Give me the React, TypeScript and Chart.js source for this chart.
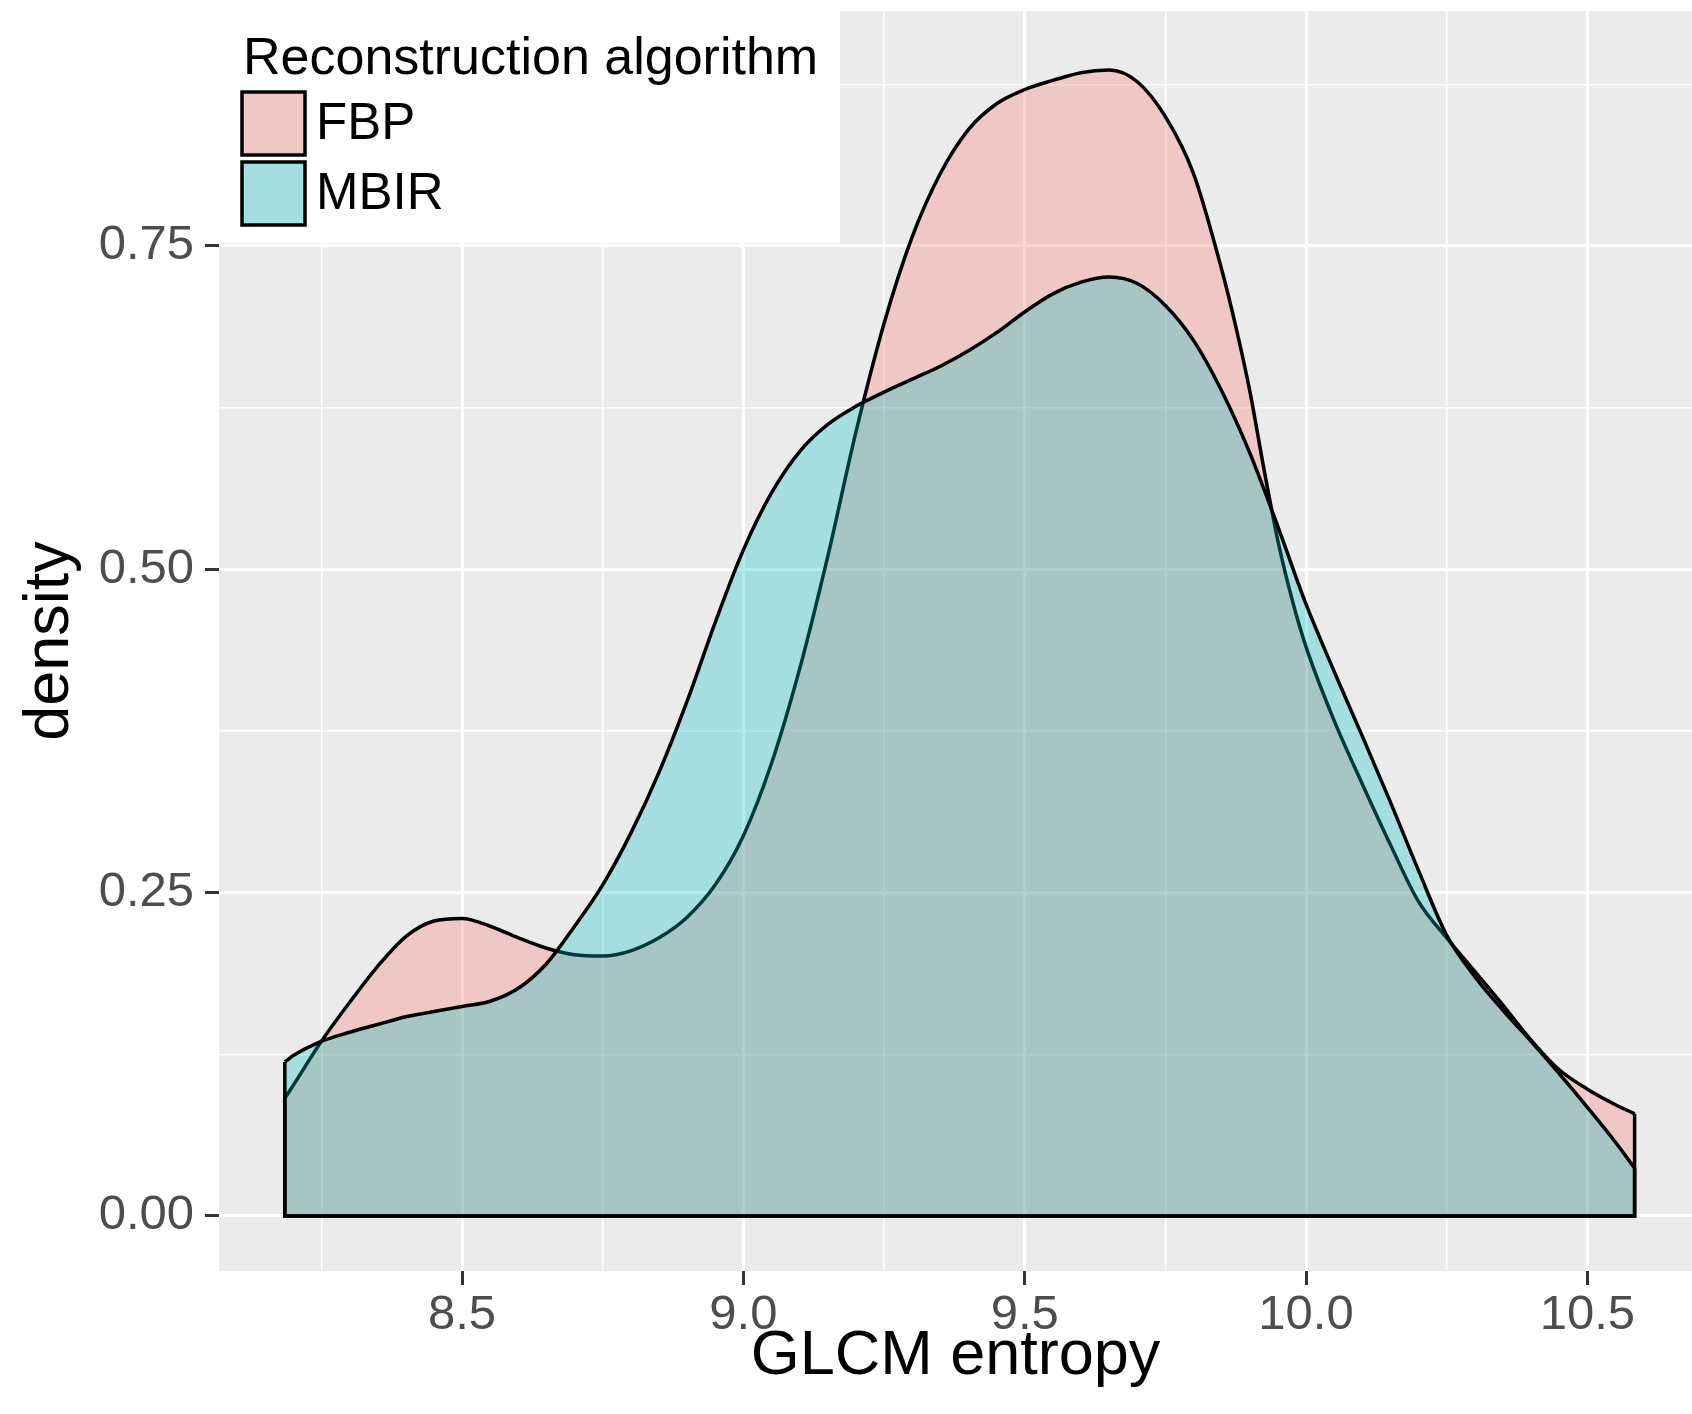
import React, { useEffect, useRef } from 'react';
import { Chart, registerables } from 'chart.js';

Chart.register(...registerables);

// ---- data ----
const SERIES_NAMES = ['FBP', 'MBIR'];
const LEGEND_TITLE = 'Reconstruction algorithm';
const X_TITLE = 'GLCM entropy';
const Y_TITLE = 'density';

const FBP_X = [8.185, 8.20, 8.25, 8.30, 8.35, 8.40, 8.45, 8.50, 8.55, 8.60, 8.65, 8.70, 8.75, 8.80, 8.85, 8.90, 8.95, 9.00, 9.05, 9.10, 9.15, 9.20, 9.25, 9.30, 9.35, 9.40, 9.45, 9.50, 9.55, 9.60, 9.65, 9.70, 9.75, 9.80, 9.85, 9.875, 9.90, 9.925, 9.95, 9.975, 10.00, 10.05, 10.10, 10.15, 10.20, 10.25, 10.30, 10.35, 10.40, 10.45, 10.50, 10.55, 10.584];
const FBP_Y = [0.091, 0.101, 0.135, 0.165, 0.193, 0.216, 0.228, 0.230, 0.224, 0.215, 0.207, 0.202, 0.201, 0.205, 0.215, 0.231, 0.256, 0.294, 0.350, 0.423, 0.510, 0.606, 0.690, 0.757, 0.806, 0.840, 0.860, 0.871, 0.878, 0.884, 0.886, 0.877, 0.850, 0.806, 0.732, 0.688, 0.638, 0.578, 0.522, 0.477, 0.440, 0.383, 0.334, 0.287, 0.243, 0.215, 0.189, 0.163, 0.136, 0.113, 0.098, 0.086, 0.079];

const MBIR_X = [8.185, 8.20, 8.25, 8.30, 8.35, 8.40, 8.45, 8.50, 8.55, 8.60, 8.65, 8.70, 8.75, 8.80, 8.85, 8.90, 8.95, 9.00, 9.05, 9.10, 9.15, 9.20, 9.25, 9.30, 9.35, 9.40, 9.45, 9.50, 9.55, 9.60, 9.65, 9.70, 9.75, 9.80, 9.85, 9.90, 9.95, 10.00, 10.05, 10.10, 10.15, 10.20, 10.25, 10.30, 10.35, 10.40, 10.45, 10.50, 10.55, 10.584];
const MBIR_Y = [0.119, 0.124, 0.135, 0.142, 0.148, 0.154, 0.158, 0.162, 0.166, 0.176, 0.195, 0.224, 0.256, 0.296, 0.343, 0.398, 0.459, 0.515, 0.559, 0.591, 0.612, 0.626, 0.637, 0.647, 0.657, 0.669, 0.683, 0.699, 0.713, 0.722, 0.726, 0.721, 0.704, 0.677, 0.638, 0.590, 0.533, 0.473, 0.421, 0.371, 0.320, 0.267, 0.217, 0.185, 0.159, 0.135, 0.110, 0.084, 0.057, 0.037];

const X_TICKS = [8.5, 9.0, 9.5, 10.0, 10.5];
const X_TICK_LABELS = ['8.5', '9.0', '9.5', '10.0', '10.5'];
const X_MINOR = [8.25, 8.75, 9.25, 9.75, 10.25];
const Y_TICKS = [0, 0.25, 0.5, 0.75];
const Y_TICK_LABELS = ['0.00', '0.25', '0.50', '0.75'];
const Y_MINOR = [0.125, 0.375, 0.625, 0.875];

// ---- styles ----
const FONT = "'Liberation Sans', Arial, Helvetica, sans-serif";
const PANEL_BG = '#EBEBEB';
const FILLS = ['rgba(248,118,109,0.3)', 'rgba(0,191,196,0.3)'];
const LINE_W = 3.5;

const toPts = (xs: number[], ys: number[]) => xs.map((x, i) => ({ x, y: ys[i] }));
const outline = (xs: number[], ys: number[]) => [
  { x: xs[xs.length - 1], y: ys[ys.length - 1] },
  { x: xs[xs.length - 1], y: 0 },
  { x: xs[0], y: 0 },
  { x: xs[0], y: ys[0] },
];

const panelBg = {
  id: 'panelBg',
  beforeDraw(chart: any) {
    const { ctx, chartArea: a } = chart;
    ctx.save();
    ctx.fillStyle = PANEL_BG;
    ctx.fillRect(a.left, a.top, a.right - a.left, a.bottom - a.top);
    ctx.restore();
  },
};

const ggLegend = {
  id: 'ggLegend',
  afterDatasetsDraw(chart: any) {
    const { ctx, chartArea: a } = chart;
    ctx.save();
    ctx.fillStyle = '#FFFFFF';
    ctx.fillRect(a.left, a.top - 1, 840 - a.left, 243 - a.top + 1);
    ctx.fillStyle = '#000000';
    ctx.font = `52px ${FONT}`;
    ctx.textBaseline = 'alphabetic';
    ctx.textAlign = 'left';
    ctx.fillText(LEGEND_TITLE, 243, 74);
    SERIES_NAMES.forEach((name, i) => {
      const y0 = 92 + i * 70;
      ctx.fillStyle = PANEL_BG;
      ctx.fillRect(242, y0, 63, 63);
      ctx.fillStyle = FILLS[i];
      ctx.fillRect(242, y0, 63, 63);
      ctx.lineWidth = LINE_W;
      ctx.strokeStyle = '#000000';
      ctx.strokeRect(242, y0, 63, 63);
      ctx.fillStyle = '#000000';
      ctx.font = `51px ${FONT}`;
      ctx.textBaseline = 'middle';
      ctx.fillText(name, 316, y0 + 33);
    });
    ctx.restore();
  },
};

const isIn = (arr: number[], v: number) => arr.some((t) => Math.abs(t - v) < 1e-9);

export default function App() {
  const ref = useRef<HTMLCanvasElement>(null);

  useEffect(() => {
    if (!ref.current) return;
    Chart.defaults.font.family = FONT;
    const chart = new Chart(ref.current, {
      type: 'line',
      data: {
        datasets: [
          {
            label: 'MBIR-outline',
            data: outline(MBIR_X, MBIR_Y),
            borderColor: '#000000',
            borderWidth: LINE_W,
            fill: false,
            tension: 0,
            pointRadius: 0,
            order: -2,
          },
          {
            label: 'FBP-outline',
            data: outline(FBP_X, FBP_Y),
            borderColor: '#000000',
            borderWidth: LINE_W,
            fill: false,
            tension: 0,
            pointRadius: 0,
            order: -1,
          },
          {
            label: SERIES_NAMES[1],
            data: toPts(MBIR_X, MBIR_Y),
            borderColor: '#000000',
            borderWidth: LINE_W,
            backgroundColor: FILLS[1],
            fill: 'origin',
            cubicInterpolationMode: 'monotone',
            borderJoinStyle: 'round',
            pointRadius: 0,
            order: 0,
          },
          {
            label: SERIES_NAMES[0],
            data: toPts(FBP_X, FBP_Y),
            borderColor: '#000000',
            borderWidth: LINE_W,
            backgroundColor: FILLS[0],
            fill: 'origin',
            cubicInterpolationMode: 'monotone',
            borderJoinStyle: 'round',
            pointRadius: 0,
            order: 1,
          },
        ],
      },
      options: {
        animation: false,
        responsive: false,
        devicePixelRatio: 1,
        layout: { padding: { top: 11, right: 0, bottom: 0, left: 0 } },
        plugins: { legend: { display: false }, tooltip: { enabled: false } },
        events: [],
        scales: {
          x: {
            type: 'linear',
            min: 8.068,
            max: 10.686,
            afterBuildTicks: (s: any) => {
              s.ticks = [...X_TICKS, ...X_MINOR].sort((a, b) => a - b).map((v) => ({ value: v }));
            },
            afterFit: (s: any) => {
              s.height = 143;
              s.paddingLeft = 0;
              s.paddingRight = 0;
            },
            border: { display: false },
            grid: {
              color: '#FFFFFF',
              lineWidth: (c: any) => (c.tick && isIn(X_TICKS, c.tick.value) ? 3 : 1.5),
              drawTicks: true,
              tickLength: 14,
              tickWidth: 3,
              tickColor: (c: any) => (c.tick && isIn(X_TICKS, c.tick.value) ? '#333333' : 'rgba(0,0,0,0)'),
            },
            ticks: {
              autoSkip: false,
              maxRotation: 0,
              minRotation: 0,
              padding: 1,
              color: '#4D4D4D',
              font: { size: 49 },
              callback: (v: any) => {
                const i = X_TICKS.findIndex((t) => Math.abs(t - v) < 1e-9);
                return i >= 0 ? X_TICK_LABELS[i] : '';
              },
            },
            title: {
              display: true,
              text: X_TITLE,
              color: '#000000',
              font: { size: 63 },
              padding: { top: 0, bottom: 20 },
            },
          },
          y: {
            type: 'linear',
            min: -0.0426,
            max: 0.9317,
            afterBuildTicks: (s: any) => {
              s.ticks = [...Y_TICKS, ...Y_MINOR].sort((a, b) => a - b).map((v) => ({ value: v }));
            },
            afterFit: (s: any) => {
              s.width = 219;
              s.paddingTop = 0;
              s.paddingBottom = 0;
            },
            border: { display: false },
            grid: {
              color: '#FFFFFF',
              lineWidth: (c: any) => (c.tick && isIn(Y_TICKS, c.tick.value) ? 3 : 1.5),
              drawTicks: true,
              tickLength: 14,
              tickWidth: 3,
              tickColor: (c: any) => (c.tick && isIn(Y_TICKS, c.tick.value) ? '#333333' : 'rgba(0,0,0,0)'),
            },
            ticks: {
              autoSkip: false,
              padding: 11,
              color: '#4D4D4D',
              font: { size: 49 },
              callback: (v: any) => {
                const i = Y_TICKS.findIndex((t) => Math.abs(t - v) < 1e-9);
                return i >= 0 ? Y_TICK_LABELS[i] : '';
              },
            },
            title: {
              display: true,
              text: Y_TITLE,
              color: '#000000',
              font: { size: 63 },
              padding: { top: 13, bottom: 0 },
            },
          },
        },
      } as any,
      plugins: [panelBg, ggLegend],
    } as any);
    return () => chart.destroy();
  }, []);

  return (
    <div style={{ position: 'absolute', left: 0, top: 0, width: 1692, height: 1414 }}>
      <canvas ref={ref} width={1692} height={1414} style={{ display: 'block', width: 1692, height: 1414 }} />
    </div>
  );
}
